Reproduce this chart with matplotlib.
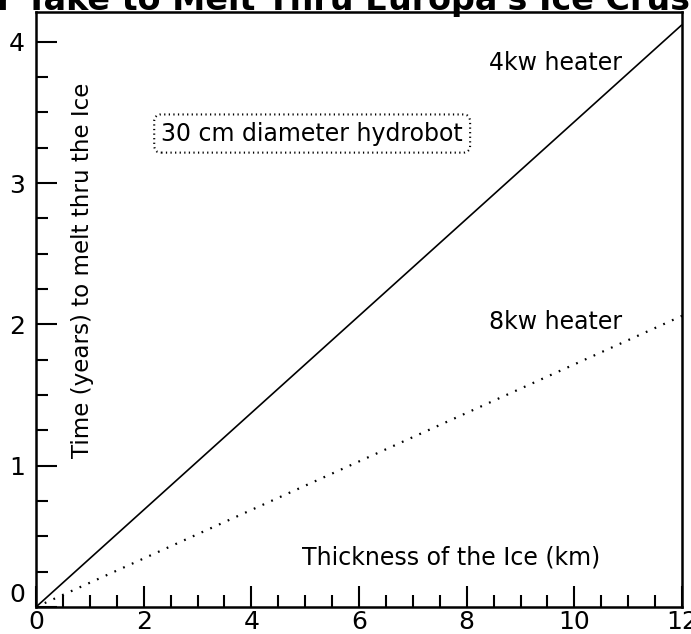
import matplotlib
matplotlib.use("Agg")
import matplotlib.pyplot as plt
from matplotlib.ticker import MultipleLocator

# Data
thickness_km = [0, 6, 12]
years_4kw = [0, 2.06, 4.12]
years_8kw = [0, 1.03, 2.06]
x_ticks = [0, 2, 4, 6, 8, 10, 12]
y_ticks = [0, 1, 2, 3, 4]

title_full = "How Long Will the Heater Take to Melt Thru Europa's Ice Crust"
title_prefix = "How Long Will the Heate"
title_visible = "r Take to Melt Thru Europa's Ice Crus"

W, H = 691, 634
fig = plt.figure(figsize=(W / 100, H / 100), dpi=100)
L, R, T, B = 36, 682, 12, 607
ax = fig.add_axes([L / W, (H - B) / H, (R - L) / W, (B - T) / H])

ax.plot(thickness_km, years_4kw, color="black", lw=1.2, solid_capstyle="butt")
ax.plot(thickness_km, years_8kw, color="black", lw=1.6, linestyle=(0, (0.8, 3.5)))

ax.set_xlim(0, 12)
ax.set_ylim(0, 4.21)
ax.set_xticks(x_ticks)
ax.set_yticks(y_ticks)
ax.xaxis.set_minor_locator(MultipleLocator(0.5))
ax.yaxis.set_minor_locator(MultipleLocator(0.25))
ax.tick_params(which="major", direction="in", length=15, width=1.5)
ax.tick_params(axis="y", which="major", pad=8)
ax.tick_params(axis="x", which="major", pad=2)
ax.tick_params(which="minor", direction="in", length=8.5, width=1.5)
ax.tick_params(axis="both", which="both", top=False, right=False)
for s in ax.spines.values():
    s.set_linewidth(1.8)

ax.set_xticklabels([str(v) for v in x_ticks], fontsize=18)
ax.set_yticklabels([str(v) for v in y_ticks], fontsize=18)
for lbl in ax.get_yticklabels():
    if lbl.get_text() == "0":
        lbl.set_verticalalignment("bottom")

fs = 17
ax.text(7.71, 0.35, "Thickness of the Ice (km)", fontsize=fs, ha="center", va="center")
ax.text(0.87, 2.38, "Time (years) to melt thru the Ice", fontsize=16.6, rotation=90,
        ha="center", va="center")
ax.text(9.65, 3.85, "4kw heater", fontsize=fs, ha="center", va="center")
ax.text(9.65, 2.02, "8kw heater", fontsize=fs, ha="center", va="center")
ax.text(5.13, 3.35, "30 cm diameter hydrobot", fontsize=fs, ha="center", va="center",
        bbox=dict(boxstyle="round,pad=0.3,rounding_size=0.3", fc="white", ec="black",
                  lw=1.5, ls=(0, (0.6, 1.6))))

# Title: sized so the visible part spans the figure width (top is cut off)
renderer = fig.canvas.get_renderer()
def width_px(s, size):
    t = fig.text(0, 0, s, fontsize=size, fontweight="bold")
    w = t.get_window_extent(renderer).width
    t.remove()
    return w
f0 = 20
w_pre = width_px(title_prefix, f0)
w_vis = width_px(title_prefix + title_visible, f0) - w_pre
size = f0 * 694 / w_vis
x0 = -(w_pre * size / f0) - 2
fig.text(x0 / W, 1 - 10 / H, title_full, fontsize=size, fontweight="bold",
         ha="left", va="baseline")

fig.savefig("out.png", dpi=100)
